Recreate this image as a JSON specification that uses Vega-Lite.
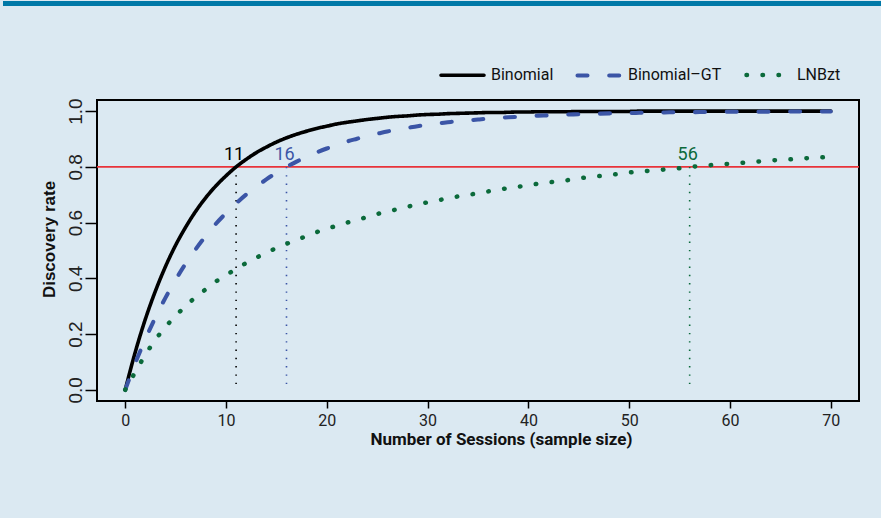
{
  "$schema": "https://vega.github.io/schema/vega-lite/v6.json",
  "background": "#dbe9f2",
  "padding": {"left": 0, "top": 0, "right": 0, "bottom": 70},
  "spacing": 89,
  "config": {
    "view": {"stroke": null},
    "font": "Roboto"
  },
  "datasets": {
    "curves": [
      {"n":0,"series":"Binomial","rate":0},{"n":1,"series":"Binomial","rate":0.136},{"n":2,"series":"Binomial","rate":0.254},{"n":3,"series":"Binomial","rate":0.355},{"n":4,"series":"Binomial","rate":0.443},{"n":5,"series":"Binomial","rate":0.519},{"n":6,"series":"Binomial","rate":0.584},{"n":7,"series":"Binomial","rate":0.641},{"n":8,"series":"Binomial","rate":0.69},{"n":9,"series":"Binomial","rate":0.732},{"n":10,"series":"Binomial","rate":0.768},{"n":11,"series":"Binomial","rate":0.8},{"n":12,"series":"Binomial","rate":0.827},{"n":13,"series":"Binomial","rate":0.851},{"n":14,"series":"Binomial","rate":0.871},{"n":15,"series":"Binomial","rate":0.889},{"n":16,"series":"Binomial","rate":0.904},{"n":17,"series":"Binomial","rate":0.917},{"n":18,"series":"Binomial","rate":0.928},{"n":19,"series":"Binomial","rate":0.938},{"n":20,"series":"Binomial","rate":0.946},{"n":21,"series":"Binomial","rate":0.954},{"n":22,"series":"Binomial","rate":0.96},{"n":23,"series":"Binomial","rate":0.965},{"n":24,"series":"Binomial","rate":0.97},{"n":25,"series":"Binomial","rate":0.974},{"n":26,"series":"Binomial","rate":0.978},{"n":27,"series":"Binomial","rate":0.981},{"n":28,"series":"Binomial","rate":0.983},{"n":29,"series":"Binomial","rate":0.986},{"n":30,"series":"Binomial","rate":0.988},{"n":31,"series":"Binomial","rate":0.989},{"n":32,"series":"Binomial","rate":0.991},{"n":33,"series":"Binomial","rate":0.992},{"n":34,"series":"Binomial","rate":0.993},{"n":35,"series":"Binomial","rate":0.994},{"n":36,"series":"Binomial","rate":0.995},{"n":37,"series":"Binomial","rate":0.995},{"n":38,"series":"Binomial","rate":0.996},{"n":39,"series":"Binomial","rate":0.997},{"n":40,"series":"Binomial","rate":0.997},{"n":41,"series":"Binomial","rate":0.998},{"n":42,"series":"Binomial","rate":0.998},{"n":43,"series":"Binomial","rate":0.998},{"n":44,"series":"Binomial","rate":0.998},{"n":45,"series":"Binomial","rate":0.999},{"n":46,"series":"Binomial","rate":0.999},{"n":47,"series":"Binomial","rate":0.999},{"n":48,"series":"Binomial","rate":0.999},{"n":49,"series":"Binomial","rate":0.999},{"n":50,"series":"Binomial","rate":0.999},{"n":51,"series":"Binomial","rate":1},{"n":52,"series":"Binomial","rate":1},{"n":53,"series":"Binomial","rate":1},{"n":54,"series":"Binomial","rate":1},{"n":55,"series":"Binomial","rate":1},{"n":56,"series":"Binomial","rate":1},{"n":57,"series":"Binomial","rate":1},{"n":58,"series":"Binomial","rate":1},{"n":59,"series":"Binomial","rate":1},{"n":60,"series":"Binomial","rate":1},{"n":61,"series":"Binomial","rate":1},{"n":62,"series":"Binomial","rate":1},{"n":63,"series":"Binomial","rate":1},{"n":64,"series":"Binomial","rate":1},{"n":65,"series":"Binomial","rate":1},{"n":66,"series":"Binomial","rate":1},{"n":67,"series":"Binomial","rate":1},{"n":68,"series":"Binomial","rate":1},{"n":69,"series":"Binomial","rate":1},{"n":70,"series":"Binomial","rate":1},
      {"n":0,"series":"Binomial–GT","rate":0},{"n":1,"series":"Binomial–GT","rate":0.096},{"n":2,"series":"Binomial–GT","rate":0.182},{"n":3,"series":"Binomial–GT","rate":0.26},{"n":4,"series":"Binomial–GT","rate":0.331},{"n":5,"series":"Binomial–GT","rate":0.395},{"n":6,"series":"Binomial–GT","rate":0.453},{"n":7,"series":"Binomial–GT","rate":0.505},{"n":8,"series":"Binomial–GT","rate":0.553},{"n":9,"series":"Binomial–GT","rate":0.596},{"n":10,"series":"Binomial–GT","rate":0.634},{"n":11,"series":"Binomial–GT","rate":0.669},{"n":12,"series":"Binomial–GT","rate":0.701},{"n":13,"series":"Binomial–GT","rate":0.729},{"n":14,"series":"Binomial–GT","rate":0.755},{"n":15,"series":"Binomial–GT","rate":0.779},{"n":16,"series":"Binomial–GT","rate":0.8},{"n":17,"series":"Binomial–GT","rate":0.819},{"n":18,"series":"Binomial–GT","rate":0.836},{"n":19,"series":"Binomial–GT","rate":0.852},{"n":20,"series":"Binomial–GT","rate":0.866},{"n":21,"series":"Binomial–GT","rate":0.879},{"n":22,"series":"Binomial–GT","rate":0.891},{"n":23,"series":"Binomial–GT","rate":0.901},{"n":24,"series":"Binomial–GT","rate":0.911},{"n":25,"series":"Binomial–GT","rate":0.919},{"n":26,"series":"Binomial–GT","rate":0.927},{"n":27,"series":"Binomial–GT","rate":0.934},{"n":28,"series":"Binomial–GT","rate":0.94},{"n":29,"series":"Binomial–GT","rate":0.946},{"n":30,"series":"Binomial–GT","rate":0.951},{"n":31,"series":"Binomial–GT","rate":0.956},{"n":32,"series":"Binomial–GT","rate":0.96},{"n":33,"series":"Binomial–GT","rate":0.964},{"n":34,"series":"Binomial–GT","rate":0.967},{"n":35,"series":"Binomial–GT","rate":0.97},{"n":36,"series":"Binomial–GT","rate":0.973},{"n":37,"series":"Binomial–GT","rate":0.976},{"n":38,"series":"Binomial–GT","rate":0.978},{"n":39,"series":"Binomial–GT","rate":0.98},{"n":40,"series":"Binomial–GT","rate":0.982},{"n":41,"series":"Binomial–GT","rate":0.984},{"n":42,"series":"Binomial–GT","rate":0.985},{"n":43,"series":"Binomial–GT","rate":0.987},{"n":44,"series":"Binomial–GT","rate":0.988},{"n":45,"series":"Binomial–GT","rate":0.989},{"n":46,"series":"Binomial–GT","rate":0.99},{"n":47,"series":"Binomial–GT","rate":0.991},{"n":48,"series":"Binomial–GT","rate":0.992},{"n":49,"series":"Binomial–GT","rate":0.993},{"n":50,"series":"Binomial–GT","rate":0.993},{"n":51,"series":"Binomial–GT","rate":0.994},{"n":52,"series":"Binomial–GT","rate":0.995},{"n":53,"series":"Binomial–GT","rate":0.995},{"n":54,"series":"Binomial–GT","rate":0.996},{"n":55,"series":"Binomial–GT","rate":0.996},{"n":56,"series":"Binomial–GT","rate":0.996},{"n":57,"series":"Binomial–GT","rate":0.997},{"n":58,"series":"Binomial–GT","rate":0.997},{"n":59,"series":"Binomial–GT","rate":0.997},{"n":60,"series":"Binomial–GT","rate":0.998},{"n":61,"series":"Binomial–GT","rate":0.998},{"n":62,"series":"Binomial–GT","rate":0.998},{"n":63,"series":"Binomial–GT","rate":0.998},{"n":64,"series":"Binomial–GT","rate":0.998},{"n":65,"series":"Binomial–GT","rate":0.999},{"n":66,"series":"Binomial–GT","rate":0.999},{"n":67,"series":"Binomial–GT","rate":0.999},{"n":68,"series":"Binomial–GT","rate":0.999},{"n":69,"series":"Binomial–GT","rate":0.999},{"n":70,"series":"Binomial–GT","rate":0.999},
      {"n":0,"series":"LNBzt","rate":0},{"n":1,"series":"LNBzt","rate":0.064},{"n":2,"series":"LNBzt","rate":0.126},{"n":3,"series":"LNBzt","rate":0.18},{"n":4,"series":"LNBzt","rate":0.226},{"n":5,"series":"LNBzt","rate":0.265},{"n":6,"series":"LNBzt","rate":0.301},{"n":7,"series":"LNBzt","rate":0.333},{"n":8,"series":"LNBzt","rate":0.361},{"n":9,"series":"LNBzt","rate":0.389},{"n":10,"series":"LNBzt","rate":0.411},{"n":11,"series":"LNBzt","rate":0.434},{"n":12,"series":"LNBzt","rate":0.455},{"n":13,"series":"LNBzt","rate":0.474},{"n":14,"series":"LNBzt","rate":0.492},{"n":15,"series":"LNBzt","rate":0.509},{"n":16,"series":"LNBzt","rate":0.524},{"n":17,"series":"LNBzt","rate":0.538},{"n":18,"series":"LNBzt","rate":0.552},{"n":19,"series":"LNBzt","rate":0.566},{"n":20,"series":"LNBzt","rate":0.578},{"n":21,"series":"LNBzt","rate":0.589},{"n":22,"series":"LNBzt","rate":0.6},{"n":23,"series":"LNBzt","rate":0.61},{"n":24,"series":"LNBzt","rate":0.62},{"n":25,"series":"LNBzt","rate":0.631},{"n":26,"series":"LNBzt","rate":0.64},{"n":27,"series":"LNBzt","rate":0.648},{"n":28,"series":"LNBzt","rate":0.657},{"n":29,"series":"LNBzt","rate":0.665},{"n":30,"series":"LNBzt","rate":0.673},{"n":31,"series":"LNBzt","rate":0.68},{"n":32,"series":"LNBzt","rate":0.687},{"n":33,"series":"LNBzt","rate":0.694},{"n":34,"series":"LNBzt","rate":0.7},{"n":35,"series":"LNBzt","rate":0.705},{"n":36,"series":"LNBzt","rate":0.712},{"n":37,"series":"LNBzt","rate":0.718},{"n":38,"series":"LNBzt","rate":0.724},{"n":39,"series":"LNBzt","rate":0.729},{"n":40,"series":"LNBzt","rate":0.734},{"n":41,"series":"LNBzt","rate":0.74},{"n":42,"series":"LNBzt","rate":0.744},{"n":43,"series":"LNBzt","rate":0.749},{"n":44,"series":"LNBzt","rate":0.753},{"n":45,"series":"LNBzt","rate":0.759},{"n":46,"series":"LNBzt","rate":0.763},{"n":47,"series":"LNBzt","rate":0.767},{"n":48,"series":"LNBzt","rate":0.771},{"n":49,"series":"LNBzt","rate":0.775},{"n":50,"series":"LNBzt","rate":0.78},{"n":51,"series":"LNBzt","rate":0.783},{"n":52,"series":"LNBzt","rate":0.786},{"n":53,"series":"LNBzt","rate":0.789},{"n":54,"series":"LNBzt","rate":0.792},{"n":55,"series":"LNBzt","rate":0.795},{"n":56,"series":"LNBzt","rate":0.8},{"n":57,"series":"LNBzt","rate":0.803},{"n":58,"series":"LNBzt","rate":0.806},{"n":59,"series":"LNBzt","rate":0.809},{"n":60,"series":"LNBzt","rate":0.811},{"n":61,"series":"LNBzt","rate":0.814},{"n":62,"series":"LNBzt","rate":0.817},{"n":63,"series":"LNBzt","rate":0.82},{"n":64,"series":"LNBzt","rate":0.823},{"n":65,"series":"LNBzt","rate":0.825},{"n":66,"series":"LNBzt","rate":0.827},{"n":67,"series":"LNBzt","rate":0.83},{"n":68,"series":"LNBzt","rate":0.832},{"n":69,"series":"LNBzt","rate":0.834},{"n":70,"series":"LNBzt","rate":0.836}
    ],
    "crossings": [
      {"series":"Binomial","n":11,"rate":0.8},
      {"series":"Binomial–GT","n":16,"rate":0.8},
      {"series":"LNBzt","n":56,"rate":0.8}
    ],
    "target": [{"target": 0.8}]
  },
  "vconcat": [
    {
      "width": 881, "height": 5,
      "data": {"values": [{"k": 1}]},
      "mark": {"type": "point", "opacity": 0},
      "view": {"fill": "#0079a8", "stroke": null}
    },
    {
      "spacing": 31,
      "hconcat": [
        {
          "width": 1, "height": 1,
          "data": {"values": [{"k": 1}]},
          "mark": {"type": "point", "opacity": 0}
        },
        {
          "width": 762, "height": 301,
          "view": {"stroke": "#000000", "strokeWidth": 2},
          "layer": [
            {
              "data": {"name": "target"},
              "mark": {"type": "rule", "color": "#e8333a", "strokeWidth": 1.6},
              "encoding": {"y": {"field": "target", "type": "quantitative"}}
            },
            {
              "data": {"name": "crossings"},
              "mark": {"type": "rule", "strokeWidth": 1.6, "strokeDash": [1.4, 6.9]},
              "encoding": {
                "x": {"field": "n", "type": "quantitative"},
                "y": {"field": "rate", "type": "quantitative"},
                "y2": {"datum": 0},
                "color": {"field": "series", "type": "nominal"}
              }
            },
            {
              "data": {"name": "curves"},
              "mark": {"type": "line", "interpolate": "monotone", "strokeCap": "round", "strokeJoin": "round"},
              "encoding": {
                "x": {
                  "field": "n", "type": "quantitative",
                  "scale": {"domain": [-2.8, 72.8], "nice": false, "zero": false},
                  "axis": {
                    "values": [0, 10, 20, 30, 40, 50, 60, 70],
                    "title": "Number of Sessions (sample size)",
                    "grid": false, "domain": false,
                    "tickColor": "#000000", "tickWidth": 1.5, "tickSize": 7,
                    "labelFont": "Roboto", "labelFontSize": 16, "labelColor": "#222222", "labelPadding": 4,
                    "titleFont": "Roboto", "titleFontSize": 17, "titleFontWeight": "bold", "titleColor": "#111111",
                    "titleX": 404, "titlePadding": 3
                  }
                },
                "y": {
                  "field": "rate", "type": "quantitative",
                  "scale": {"domain": [-0.04, 1.04], "nice": false, "zero": false},
                  "axis": {
                    "values": [0, 0.2, 0.4, 0.6, 0.8, 1],
                    "format": ".1f",
                    "title": "Discovery rate",
                    "grid": false, "domain": false,
                    "tickColor": "#000000", "tickWidth": 1.5, "tickSize": 12,
                    "labelAngle": 270, "labelAlign": "center", "labelBaseline": "alphabetic",
                    "labelFont": "Liberation Sans Narrow, Liberation Sans", "labelFontSize": 19, "labelColor": "#222222", "labelPadding": 4,
                    "titleFont": "Liberation Sans", "titleFontSize": 17, "titleFontWeight": "bold", "titleColor": "#111111",
                    "titlePadding": 8, "titleY": 139
                  }
                },
                "color": {
                  "field": "series", "type": "nominal",
                  "scale": {"domain": ["Binomial", "Binomial–GT", "LNBzt"], "range": ["#000000", "#3b55a6", "#0b6a3b"]},
                  "legend": {
                    "orient": "none", "legendX": 436, "legendY": 50,
                    "direction": "horizontal", "title": null, "padding": 0,
                    "symbolType": "stroke", "symbolSize": 1849, "symbolStrokeWidth": 3.6,
                    "labelFont": "Roboto", "labelFontSize": 16, "labelColor": "#111111",
                    "labelOffset": 5, "columnPadding": 15,
                    "encode": {
                      "symbols": {
                        "update": {
                          "strokeCap": {"value": "round"},
                          "strokeDash": [
                            {"test": "datum.value === 'LNBzt'", "value": [0.5, 8]},
                            {"test": "datum.value === 'Binomial–GT'", "value": [10, 21.7]},
                            {"value": [1, 0]}
                          ],
                          "strokeWidth": [
                            {"test": "datum.value === 'LNBzt'", "value": 2.2},
                            {"test": "datum.value === 'Binomial–GT'", "value": 4.2},
                            {"value": 3.6}
                          ]
                        }
                      }
                    }
                  }
                },
                "strokeDash": {
                  "field": "series", "type": "nominal",
                  "scale": {"domain": ["Binomial", "Binomial–GT", "LNBzt"], "range": [[1, 0], [10, 21.7], [0.5, 15.5]]},
                  "legend": null
                },
                "strokeWidth": {
                  "field": "series", "type": "ordinal",
                  "scale": {"domain": ["Binomial", "Binomial–GT", "LNBzt"], "range": [3.6, 4.5, 3.6]},
                  "legend": null
                }
              }
            },
            {
              "data": {"name": "crossings"},
              "mark": {"type": "text", "fontSize": 18, "font": "Roboto", "dy": -7, "dx": -2, "baseline": "alphabetic"},
              "encoding": {
                "x": {"field": "n", "type": "quantitative"},
                "y": {"field": "rate", "type": "quantitative"},
                "text": {"field": "n", "type": "quantitative", "format": "d"},
                "color": {"field": "series", "type": "nominal"}
              }
            }
          ]
        }
      ]
    }
  ]
}
